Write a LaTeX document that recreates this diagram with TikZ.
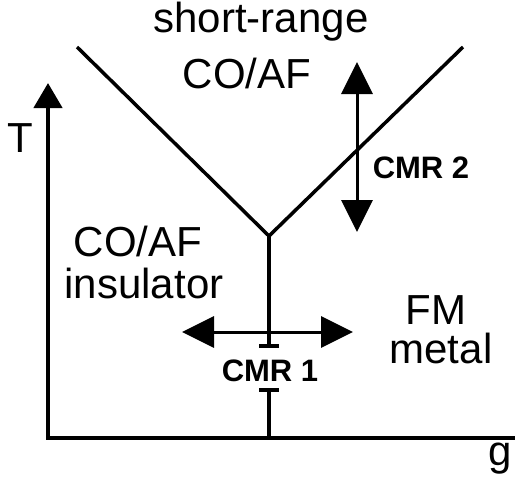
\documentclass[tikz,border=0pt]{standalone}
\usepackage{fontspec}
\setmainfont{Liberation Sans}
\usetikzlibrary{arrows.meta}

\begin{document}
\begin{tikzpicture}[
    x=1pt, y=-1pt,
    phase/.style={inner sep=0pt, anchor=base, font=\fontsize{42}{46}\selectfont},
    cmr/.style={inner sep=0pt, anchor=base, font=\fontsize{31}{31}\selectfont\bfseries},
    axis/.style={line width=4.5pt},
    border/.style={line width=3.5pt},
    stem/.style={line width=4pt, -{Bar[width=20pt]}},
    dblarrow/.style={{Triangle[length=32pt,width=31pt]}-{Triangle[length=32pt,width=31pt]}, line width=3pt}
  ]
    \useasboundingbox (0,0) rectangle (515,483);

    % phase labels
    \node[phase] (short) at (261,32) {short-range};
    \node[phase] (shortco) at (247,88) {CO/AF};
    \node[phase] (insco) at (138,256) {CO/AF};
    \node[phase] (ins) at (144,298) {insulator};
    \node[phase] (fm) at (436,324) {FM};
    \node[phase] (metal) at (441,363) {metal};
    \node[cmr] (cmrtwo) at (421,178) {CMR 2};
    \node[cmr] (cmrone) at (270,381) {CMR 1};

    % axes
    \node[phase] (tlabel) at (20,152) {T};
    \node[phase] (glabel) at (500,465) {g};
    \coordinate (origin) at (48,438);
    \coordinate (ttop) at (48,83);
    \coordinate (gend) at (515,438);
    \draw[axis, {Triangle[length=25pt,width=28pt]}-] (ttop) -- (origin) -- (gend);

    % phase boundaries
    \coordinate (lefttop) at (77,47);
    \coordinate (righttop) at (463,47);
    \coordinate (fork) at (269,236);
    \coordinate (bottom) at (269,438);
    \coordinate (teeup) at (269,348);
    \coordinate (teedown) at (269,388);
    \draw[border] (lefttop) -- (fork) -- (righttop);
    \draw[stem] (fork) -- (teeup);
    \draw[stem] (bottom) -- (teedown);

    % crossover arrows
    \coordinate (hleft) at (182,332);
    \coordinate (hright) at (353,332);
    \coordinate (vtop) at (357,62);
    \coordinate (vbottom) at (357,232);
    \draw[dblarrow] (hleft) -- (hright);
    \draw[dblarrow] (vtop) -- (vbottom);
\end{tikzpicture}
\end{document}
